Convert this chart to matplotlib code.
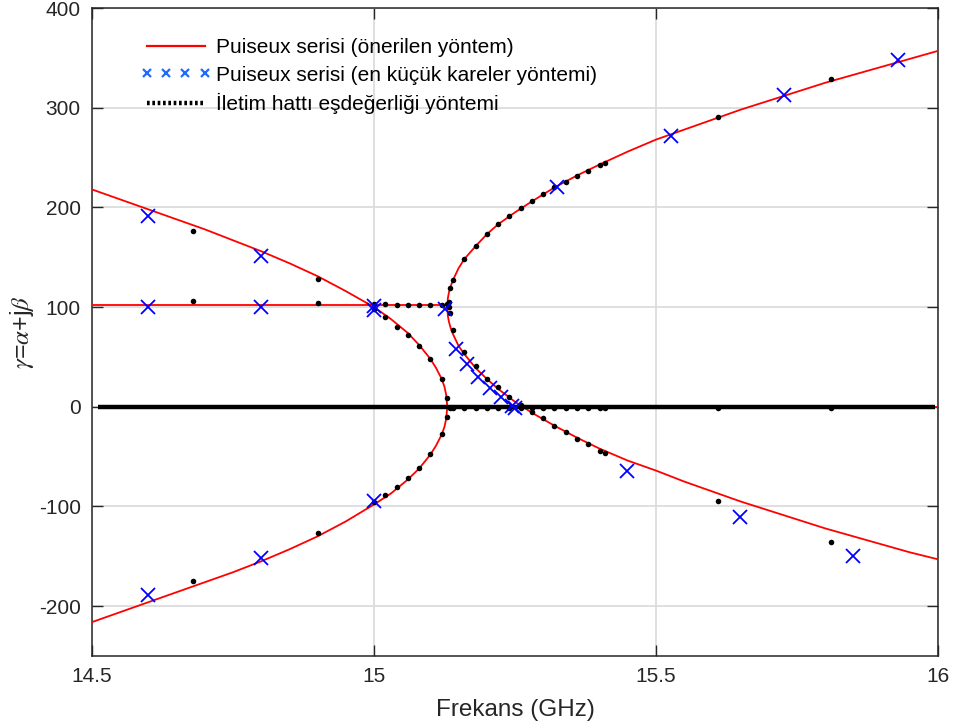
import matplotlib
matplotlib.use('Agg')
import matplotlib.pyplot as plt
from matplotlib.lines import Line2D

plt.rcParams.update({
    'font.family': ['Liberation Sans', 'DejaVu Sans'],
    'font.size': 15,
    'axes.unicode_minus': False,
    'xtick.direction': 'in', 'ytick.direction': 'in',
    'xtick.top': True, 'ytick.right': True,
    'mathtext.fontset': 'stix',
})

# Puiseux serisi (önerilen yöntem) - kırmızı eğriler
red_left_f = [14.50, 14.55, 14.60, 14.65, 14.70, 14.75, 14.80, 14.85, 14.90, 14.95,
              15.00, 15.03, 15.06, 15.08, 15.10, 15.11, 15.12, 15.125, 15.128, 15.13]
red_left_up = [218, 208, 198, 188, 178, 167, 156, 144, 131, 116,
               100, 88, 74, 62, 48, 39, 28, 20, 12, 0]
red_left_down = [-216, -206, -196, -186, -176, -166, -155, -143, -130, -115,
                 -98, -87, -73, -62, -48, -39, -28, -20, -12, 0]
red_flat_f = [14.50, 15.13]
red_flat_y = [102, 102]
red_right_f = [15.13, 15.131, 15.133, 15.136, 15.14, 15.15, 15.16, 15.18, 15.20, 15.22,
               15.25, 15.28, 15.32, 15.36, 15.40, 15.45, 15.50, 15.55, 15.60, 15.65,
               15.70, 15.75, 15.80, 15.85, 15.90, 15.95, 16.00]
red_right_up = [100, 109, 115, 121, 127, 139, 148, 161, 173, 183,
                195, 206, 220, 232, 243, 256, 268, 278, 288, 298,
                307, 316, 325, 333, 341, 349, 357]
red_right_down = [100, 91, 85, 79, 73, 61, 53, 39, 28, 18,
                  5, -6, -19, -31, -42, -54, -64, -75, -85, -95,
                  -104, -113, -122, -130, -138, -146, -153]
red_zero_f = [15.13, 16.00]
red_zero_y = [0, 0]

# Puiseux serisi (en küçük kareler yöntemi) - mavi çarpılar
ls_f = [14.60, 14.60, 14.60, 14.80, 14.80, 14.80, 15.00, 15.00, 15.00, 15.126,
        15.145, 15.165, 15.185, 15.205, 15.225, 15.245, 15.250, 15.325, 15.527, 15.727,
        15.929, 15.449, 15.649, 15.849]
ls_y = [191, 100, -189, 151, 100, -152, 101, 97, -95, 98,
        58, 43, 30, 19, 10, 1, -1, 220, 272, 313,
        348, -64, -111, -150]

# İletim hattı eşdeğerliği yöntemi - siyah noktalar
tl_left_f = [14.68, 14.90, 15.00, 15.02, 15.04, 15.06, 15.08, 15.10, 15.12, 15.13]
tl_left_up = [176, 128, 98, 90, 80, 72, 61, 48, 28, 9]
tl_left_flat = [106, 104, 103, 103, 102, 102, 102, 102, 102, 103]
tl_left_down = [-175, -127, -96, -89, -80, -71, -61, -47, -27, -10]
tl_right_f = [15.135, 15.14, 15.16, 15.18, 15.20, 15.22, 15.24, 15.26, 15.28, 15.30,
              15.32, 15.34, 15.36, 15.38, 15.40, 15.41, 15.61, 15.81]
tl_right_up = [119, 127, 148, 161, 173, 183, 191, 199, 206, 213,
               220, 225, 231, 237, 243, 245, 291, 329]
tl_right_down = [94, 77, 55, 41, 28, 20, 10, 2, -5, -11,
                 -19, -25, -32, -37, -44, -46, -95, -136]
tl_right_zero = [-1] * 18
tl_zero_f = [14.51, 15.995]
tl_zero_y = [0, 0]

xticks = [14.5, 15, 15.5, 16]
xtick_labels = ['14.5', '15', '15.5', '16']
yticks = [-200, -100, 0, 100, 200, 300, 400]

labels = ['Puiseux serisi (önerilen yöntem)',
          'Puiseux serisi (en küçük kareler yöntemi)',
          'İletim hattı eşdeğerliği yöntemi']


def main():
    fig = plt.figure(figsize=(9.59, 7.28), dpi=100)
    ax = fig.add_axes([0.0959, 0.0989, 0.8822, 0.8901])

    red = dict(color='red', linewidth=1.3, zorder=3)
    ax.plot(red_zero_f, red_zero_y, **red)
    ax.plot(red_flat_f, red_flat_y, **red)
    ax.plot(red_left_f, red_left_up, **red)
    ax.plot(red_left_f, red_left_down, **red)
    ax.plot(red_right_f, red_right_up, **red)
    ax.plot(red_right_f, red_right_down, **red)

    # y=0 boyunca sık noktalar kalın çizgi gibi görünüyor
    ax.plot(tl_zero_f, tl_zero_y, color='black', linewidth=3.2, zorder=4, solid_capstyle='butt')
    dot = dict(linestyle='none', marker='o', markersize=4, markeredgewidth=0,
               color='black', zorder=5)
    for ys in (tl_left_up, tl_left_flat, tl_left_down):
        ax.plot(tl_left_f, ys, **dot)
    for ys in (tl_right_up, tl_right_down, tl_right_zero):
        ax.plot(tl_right_f, ys, **dot)
    ax.plot([15.133, 15.133], [100, 105], **dot)

    ax.plot(ls_f, ls_y, linestyle='none', marker='x', markersize=10,
            markeredgewidth=1.3, color='blue', zorder=6)

    ax.set_xlim(14.5, 16)
    ax.set_ylim(-250, 400)
    ax.set_xticks(xticks)
    ax.set_xticklabels(xtick_labels)
    ax.set_yticks(yticks)
    ax.tick_params(length=8, width=1, colors='#262626', labelsize=15, pad=8)
    ax.grid(True, color='#dcdcdc', linewidth=1.3)
    ax.set_axisbelow(True)
    for sp in ax.spines.values():
        sp.set_color('#262626')
        sp.set_linewidth(1.1)

    ax.set_xlabel('Frekans (GHz)', fontsize=17.5, color='#262626', labelpad=9)
    ax.set_ylabel(r'$\gamma$=$\alpha$+j$\beta$', fontsize=18, color='#262626', labelpad=2)

    handles = [
        Line2D([], [], color='red', linewidth=1.6),
        Line2D([], [], linestyle='none', marker='x', markersize=5.5,
               markeredgewidth=1.6, color='#1f6bff'),
        Line2D([], [], color='black', linestyle=(0, (0.6, 0.6)), linewidth=3.2),
    ]
    ax.legend(handles, labels, loc='upper left', bbox_to_anchor=(0.035, 0.982),
              frameon=False, fontsize=15, numpoints=4, handlelength=3.4,
              handletextpad=0.22, labelspacing=0.4)

    fig.savefig('out.png', dpi=100)
    plt.close(fig)


if __name__ == '__main__':
    main()
